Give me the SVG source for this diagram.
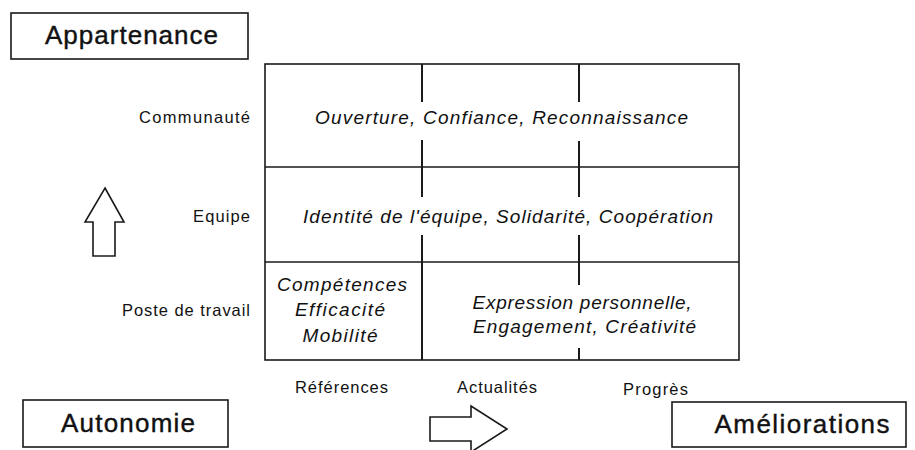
<svg xmlns="http://www.w3.org/2000/svg" width="915" height="450" viewBox="0 0 915 450">
<style>
.box{fill:#fff;stroke:#1a1a1a;stroke-width:1.6}
.ln{stroke:#1a1a1a;stroke-width:1.6;fill:none}
.vl{stroke:#1a1a1a;stroke-width:2;fill:none}
.big{font-family:"Liberation Sans",Arial,Helvetica,sans-serif;font-size:26px;fill:#111;stroke:#111;stroke-width:0.4;text-anchor:middle}
.lab{font-family:"Liberation Sans",Arial,Helvetica,sans-serif;font-size:16.5px;fill:#111}
.cell{font-family:"Liberation Sans",Arial,Helvetica,sans-serif;font-size:19px;font-style:italic;fill:#111;text-anchor:middle}
.arr{fill:#fff;stroke:#1a1a1a;stroke-width:1.6;stroke-linejoin:miter}
</style>
<rect width="915" height="450" fill="#fff"/>

<g id="appartenance">
<rect class="box" x="11" y="13" width="237" height="46"/>
<text class="big" x="131.5" y="44" textLength="173" lengthAdjust="spacing">Appartenance</text>
</g>

<g id="autonomie">
<rect class="box" x="23" y="400" width="205" height="47"/>
<text class="big" x="128" y="432" textLength="134" lengthAdjust="spacing">Autonomie</text>
</g>

<g id="ameliorations">
<rect class="box" x="672" y="402" width="234" height="45"/>
<text class="big" x="802" y="433" textLength="175" lengthAdjust="spacing">Améliorations</text>
</g>

<g id="grid">
<rect class="ln" x="265" y="64" width="474" height="296"/>
<line class="ln" x1="265" y1="167" x2="739" y2="167"/>
<line class="ln" x1="265" y1="262" x2="739" y2="262"/>
<line class="vl" x1="422" y1="64" x2="422" y2="102"/>
<line class="vl" x1="422" y1="140" x2="422" y2="197"/>
<line class="vl" x1="422" y1="235" x2="422" y2="360"/>
<line class="vl" x1="579" y1="64" x2="579" y2="102"/>
<line class="vl" x1="579" y1="141" x2="579" y2="197"/>
<line class="vl" x1="579" y1="235" x2="579" y2="285"/>
<line class="vl" x1="579" y1="348" x2="579" y2="360"/>
</g>

<g id="cell-communaute">
<text class="cell" x="501.5" y="124" textLength="373" lengthAdjust="spacing">Ouverture, Confiance, Reconnaissance</text>
</g>
<g id="cell-equipe">
<text class="cell" x="508" y="223" textLength="410" lengthAdjust="spacing">Identité de l'équipe, Solidarité, Coopération</text>
</g>
<g id="cell-poste-gauche">
<text class="cell" x="342" y="291" textLength="130" lengthAdjust="spacing">Compétences</text>
<text class="cell" x="340" y="316" textLength="90" lengthAdjust="spacing">Efficacité</text>
<text class="cell" x="340" y="342" textLength="75" lengthAdjust="spacing">Mobilité</text>
</g>
<g id="cell-poste-droite">
<text class="cell" x="582" y="309" textLength="219" lengthAdjust="spacing">Expression personnelle,</text>
<text class="cell" x="584.5" y="333" textLength="223" lengthAdjust="spacing">Engagement, Créativité</text>
</g>

<g id="row-labels" class="lab" text-anchor="end">
<text x="250" y="123" textLength="111" lengthAdjust="spacing">Communauté</text>
<text x="250" y="222" textLength="57" lengthAdjust="spacing">Equipe</text>
<text x="250" y="316" textLength="128" lengthAdjust="spacing">Poste de travail</text>
</g>

<g id="col-labels" class="lab" text-anchor="middle">
<text x="341.5" y="393" textLength="93" lengthAdjust="spacing">Références</text>
<text x="497" y="393" textLength="80" lengthAdjust="spacing">Actualités</text>
<text x="655.5" y="395" textLength="65" lengthAdjust="spacing">Progrès</text>
</g>

<g id="connectors">
<polygon class="arr" points="105,188 124,222 115,222 115,256 93,256 93,222 85,222"/>
<polygon class="arr" points="430,417 471,417 471,406 507,429 471,452 471,441 430,441"/>
</g>
</svg>
